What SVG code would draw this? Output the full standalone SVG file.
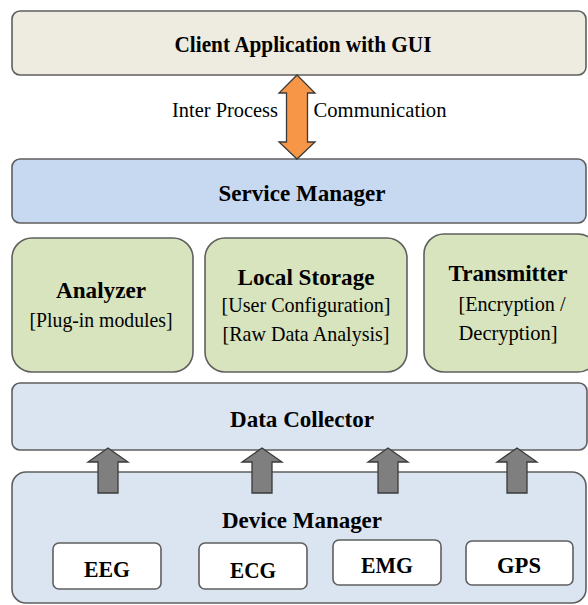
<svg xmlns="http://www.w3.org/2000/svg" width="588" height="605" viewBox="0 0 588 605">
<style>
.box{stroke:#5f5f5f;stroke-width:1.6}
.t{font-family:"Liberation Serif","Times New Roman",serif;fill:#000;text-anchor:middle}
.b{font-weight:bold;font-size:23px}
.r{font-size:22px}
.arr{stroke:#3a3a3a;stroke-width:1.3;stroke-linejoin:miter}
</style>
<rect width="588" height="605" fill="#ffffff"/>
<g id="client">
<rect class="box" x="12" y="11" width="574" height="64" rx="8" fill="#eeece1"/>
<text class="t b" x="303" y="52" textLength="257" lengthAdjust="spacingAndGlyphs">Client Application with GUI</text>
</g>
<g id="service-manager">
<rect class="box" x="12" y="159" width="574" height="64" rx="8" fill="#c6d9f1"/>
<text class="t b" x="302" y="201" textLength="167" lengthAdjust="spacingAndGlyphs">Service Manager</text>
</g>
<g id="analyzer">
<rect class="box" x="12" y="238" width="181" height="134" rx="20" fill="#d7e4bd"/>
<text class="t b" x="101" y="298" textLength="90" lengthAdjust="spacingAndGlyphs">Analyzer</text>
<text class="t r" x="101" y="327" textLength="143" lengthAdjust="spacingAndGlyphs">[Plug-in modules]</text>
</g>
<g id="local-storage">
<rect class="box" x="205" y="238" width="202" height="134" rx="20" fill="#d7e4bd"/>
<text class="t b" x="306" y="285" textLength="137" lengthAdjust="spacingAndGlyphs">Local Storage</text>
<text class="t r" x="306" y="312" textLength="169" lengthAdjust="spacingAndGlyphs">[User Configuration]</text>
<text class="t r" x="306" y="341" textLength="167" lengthAdjust="spacingAndGlyphs">[Raw Data Analysis]</text>
</g>
<g id="transmitter">
<rect class="box" x="424" y="234" width="174" height="138" rx="20" fill="#d7e4bd"/>
<text class="t b" x="508" y="281" textLength="119" lengthAdjust="spacingAndGlyphs">Transmitter</text>
<text class="t r" x="512" y="311" textLength="107" lengthAdjust="spacingAndGlyphs">[Encryption /</text>
<text class="t r" x="508" y="340" textLength="99" lengthAdjust="spacingAndGlyphs">Decryption]</text>
</g>
<g id="data-collector">
<rect class="box" x="12" y="383" width="575" height="67" rx="8" fill="#dbe5f1"/>
<text class="t b" x="302" y="427" textLength="144" lengthAdjust="spacingAndGlyphs">Data Collector</text>
</g>
<g id="device-manager">
<rect class="box" x="12" y="472" width="574" height="131" rx="14" fill="#dbe5f1"/>
<text class="t b" x="302" y="528" textLength="160" lengthAdjust="spacingAndGlyphs">Device Manager</text>
</g>
<g id="eeg">
<rect class="box" x="53" y="543" width="108" height="46" rx="6" fill="#ffffff"/>
<text class="t b" x="107" y="577" textLength="46" lengthAdjust="spacingAndGlyphs">EEG</text>
</g>
<g id="ecg">
<rect class="box" x="199" y="543" width="108" height="46" rx="6" fill="#ffffff"/>
<text class="t b" x="253" y="578" textLength="46" lengthAdjust="spacingAndGlyphs">ECG</text>
</g>
<g id="emg">
<rect class="box" x="333" y="540" width="108" height="45" rx="6" fill="#ffffff"/>
<text class="t b" x="387" y="573" textLength="52" lengthAdjust="spacingAndGlyphs">EMG</text>
</g>
<g id="gps">
<rect class="box" x="466" y="541" width="107" height="44" rx="6" fill="#ffffff"/>
<text class="t b" x="519" y="573" textLength="44" lengthAdjust="spacingAndGlyphs">GPS</text>
</g>
<g id="connectors">
<polygon class="arr" fill="#f79646" points="297,75 315,93 307.5,93 307.5,142 315,142 297,159 279,142 286.5,142 286.5,93 279,93"/>
<text class="t r" x="225" y="117" textLength="106" lengthAdjust="spacingAndGlyphs">Inter Process</text>
<text class="t r" x="380" y="117" textLength="133" lengthAdjust="spacingAndGlyphs">Communication</text>
<polygon class="arr" fill="#7f7f7f" points="108,448 128,462 118,462 118,493 98,493 98,462 88,462"/>
<polygon class="arr" fill="#7f7f7f" points="262,448 282,462 272,462 272,493 252,493 252,462 242,462"/>
<polygon class="arr" fill="#7f7f7f" points="388,448 408,462 398,462 398,493 378,493 378,462 368,462"/>
<polygon class="arr" fill="#7f7f7f" points="517,448 537,462 527,462 527,493 507,493 507,462 497,462"/>
</g>
</svg>
